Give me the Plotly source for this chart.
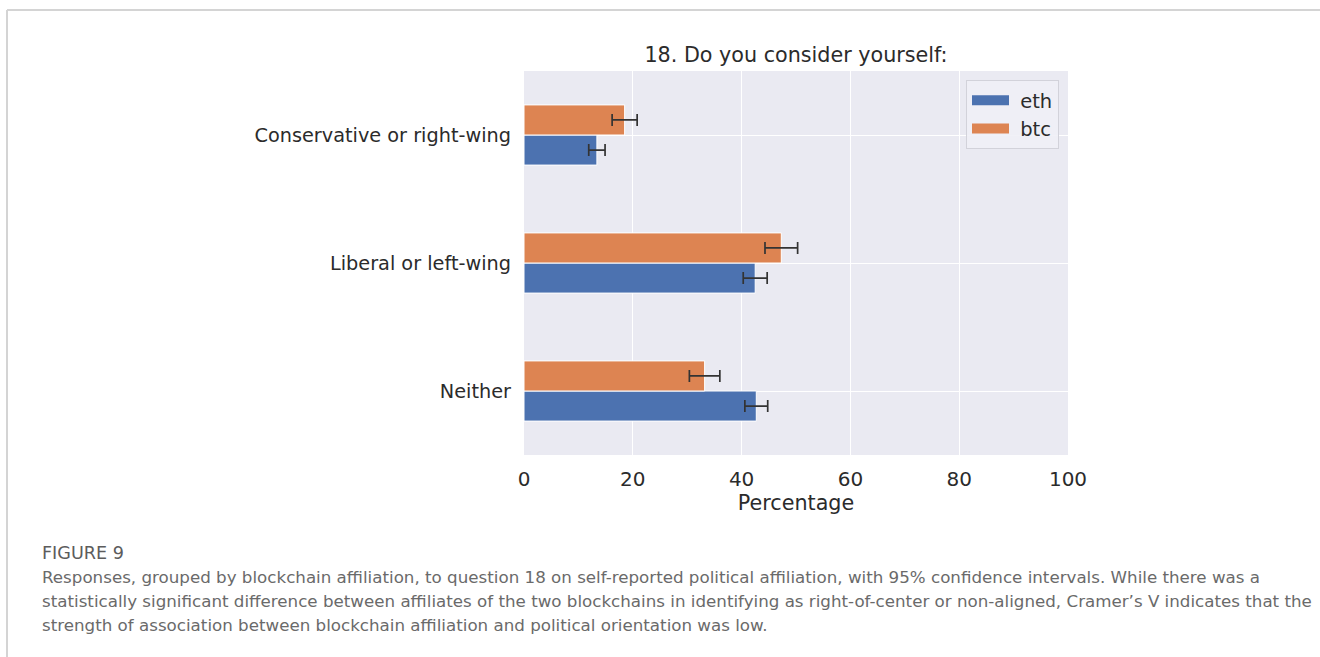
import plotly.graph_objects as go

categories = ["Neither", "Liberal or left-wing", "Conservative or right-wing"]
eth_values = [42.7, 42.5, 13.4]
eth_err = [2.1, 2.2, 1.5]
btc_values = [33.2, 47.3, 18.5]
btc_err = [2.8, 3.0, 2.3]
x_ticks = [0, 20, 40, 60, 80, 100]

caption_title = "FIGURE 9"
caption_lines = [
    "Responses, grouped by blockchain affiliation, to question 18 on self-reported political affiliation, with 95% confidence intervals. While there was a",
    "statistically significant difference between affiliates of the two blockchains in identifying as right-of-center or non-aligned, Cramer\u2019s V indicates that the",
    "strength of association between blockchain affiliation and political orientation was low.",
]

BLUE = "#4C72B0"
ORANGE = "#DD8452"
TXT = "#2b2b2b"
FONT = "DejaVu Sans"

# plot area in pixels
L, R, T, B = 524, 1068, 71, 455
W, H = 1320, 657
PW, PH = R - L, B - T


def px(x):
    return (x - L) / PW


def py(y):
    return (B - y) / PH


fig = go.Figure()
err_style = dict(type="data", color="#333333", thickness=1.7, width=6)
fig.add_trace(go.Bar(
    y=categories, x=eth_values, orientation="h", name="eth",
    marker=dict(color=BLUE, line=dict(color="white", width=1)),
    error_x=dict(array=eth_err, **err_style), showlegend=False,
))
fig.add_trace(go.Bar(
    y=categories, x=btc_values, orientation="h", name="btc",
    marker=dict(color=ORANGE, line=dict(color="white", width=1)),
    error_x=dict(array=btc_err, **err_style), showlegend=False,
))
# legend-only entries with wide rectangular swatches
fig.add_trace(go.Scatter(x=[None], y=[None], mode="lines", name="\u00a0eth",
                         line=dict(color=BLUE, width=10), hoverinfo="skip"))
fig.add_trace(go.Scatter(x=[None], y=[None], mode="lines", name="\u00a0btc",
                         line=dict(color=ORANGE, width=10), hoverinfo="skip"))

annotations = [
    dict(text=caption_title, x=px(40), y=py(553), xref="paper", yref="paper",
         xanchor="left", yanchor="middle", showarrow=False,
         font=dict(family="DejaVu Sans", size=17.6, color="#5c5c5c")),
]
for i, line in enumerate(caption_lines):
    annotations.append(dict(
        text=line, x=px(40), y=py(577 + 24 * i), xref="paper", yref="paper",
        xanchor="left", yanchor="middle", showarrow=False,
        font=dict(family="DejaVu Sans", size=16.7, color="#6a6a6a")))

shapes = [
    dict(type="line", xref="paper", yref="paper", x0=px(7), x1=px(W + 5),
         y0=py(10), y1=py(10), line=dict(color="#d4d4d4", width=2), layer="below"),
    dict(type="line", xref="paper", yref="paper", x0=px(7), x1=px(7),
         y0=py(10), y1=py(H + 5), line=dict(color="#d4d4d4", width=2), layer="below"),
]

fig.update_layout(
    width=W, height=H,
    margin=dict(l=L, r=W - R, t=T, b=H - B, pad=0),
    paper_bgcolor="white", plot_bgcolor="#EAEAF2",
    barmode="group", bargap=0.53, bargroupgap=0.0,
    font=dict(family=FONT, size=19, color=TXT),
    title=dict(text="18. Do you consider yourself:", x=(L + R) / 2 / W, xref="container",
               y=1 - 55 / H, yref="container", xanchor="center", yanchor="middle",
               font=dict(family=FONT, size=20.7, color=TXT)),
    xaxis=dict(range=[0, 100], tickvals=x_ticks, showgrid=True, gridcolor="white",
               gridwidth=1.3, zeroline=False, showline=False,
               tickfont=dict(size=20, color=TXT),
               title=dict(text="Percentage", font=dict(size=20.7, color=TXT), standoff=5),
               ticks="", ticklabelstandoff=10),
    yaxis=dict(type="category", categoryorder="array", categoryarray=categories,
               range=[-0.5, 2.5], showgrid=True, gridcolor="white", gridwidth=1.3,
               zeroline=False, showline=False, ticks="",
               tickfont=dict(size=19.3, color=TXT), ticklabelstandoff=12),
    legend=dict(x=px(1059), y=py(80), xanchor="right", yanchor="top",
                bgcolor="rgba(240,240,246,0.9)", bordercolor="#d2d2da", borderwidth=1,
                font=dict(size=19.5, color=TXT), itemwidth=37, tracegroupgap=0),
    annotations=annotations,
    shapes=shapes,
)

fig.write_html("out.html")
